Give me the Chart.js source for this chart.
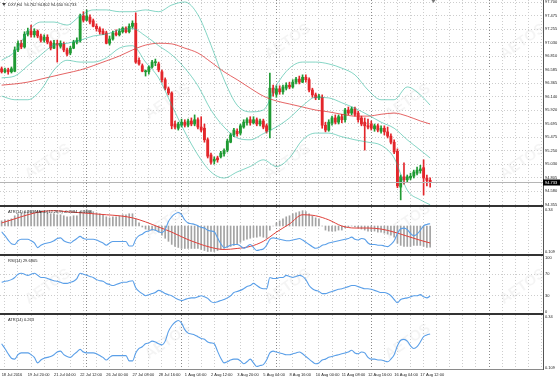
<!DOCTYPE html>
<html>
<head>
<meta charset="utf-8">
<script src="https://cdn.jsdelivr.net/npm/chart.js@4.4.1/dist/chart.umd.min.js"></script>
<style>
  html, body { margin: 0; padding: 0; background: #fff; }
  #wrap { position: relative; width: 560px; height: 382px; overflow: hidden; }
  #wrap canvas { position: absolute; left: 0; }
</style>
</head>
<body>
<div id="wrap">
  <canvas id="marca" width="560" height="382" style="top:0"></canvas>
  <canvas id="main" width="560" height="210" style="top:0"></canvas>
  <canvas id="macd" width="560" height="56" style="top:203px"></canvas>
  <canvas id="rsi" width="560" height="66" style="top:252px"></canvas>
  <canvas id="atr" width="560" height="71" style="top:311px"></canvas>
</div>
<script>
// === Datos (DXY H4) ===
const nBars = 132;
const nSlots = 166;

const xLabels = ['18 Jul 2016', '19 Jul 20:00', '21 Jul 04:00', '22 Jul 12:00', '26 Jul 00:00', '27 Jul 08:00',
  '28 Jul 16:00', '1 Aug 04:00', '2 Aug 12:00', '3 Aug 20:00', '5 Aug 04:00', '8 Aug 16:00', '10 Aug 00:00',
  '11 Aug 08:00', '12 Aug 16:00', '16 Aug 04:00', '17 Aug 12:00'];

const opens = [96.60,96.55,96.58,96.55,96.56,96.91,97.02,96.96,97.17,97.22,
  97.16,97.22,97.14,97.07,97.12,97.04,96.94,97.02,96.97,97.01,
  96.91,96.86,96.94,97.04,97.06,97.47,97.40,97.45,97.39,97.30,
  97.26,97.22,97.19,97.02,97.09,97.19,97.16,97.21,97.27,97.21,
  97.30,97.35,96.74,96.65,96.55,96.55,96.63,96.70,96.68,96.55,
  96.42,96.27,96.20,95.69,95.62,95.67,95.72,95.67,95.74,95.69,
  95.76,95.64,95.62,95.43,95.18,95.08,95.13,95.15,95.20,95.26,
  95.39,95.51,95.57,95.54,95.64,95.71,95.76,95.71,95.76,95.69,
  95.74,95.66,95.59,96.28,96.18,96.27,96.22,96.28,96.33,96.30,
  96.38,96.43,96.38,96.46,96.42,96.25,96.17,96.12,96.13,95.67,
  95.59,95.71,95.79,95.72,95.81,95.76,95.92,95.87,95.94,95.87,
  95.79,95.72,95.66,95.69,95.61,95.66,95.57,95.62,95.56,95.49,
  95.39,95.24,94.65,94.82,94.77,94.80,94.83,94.88,94.92,94.97,
  94.80,94.762];
const highs = [96.63,96.61,96.61,96.63,96.96,97.06,97.07,97.21,97.27,97.32,
  97.26,97.24,97.17,97.16,97.16,97.06,97.07,97.07,97.06,97.04,
  96.94,96.97,97.07,97.11,97.50,97.54,97.57,97.49,97.42,97.34,
  97.29,97.26,97.22,97.14,97.22,97.24,97.26,97.29,97.29,97.34,
  97.39,97.52,96.78,96.68,96.58,96.65,96.74,96.76,96.71,96.58,
  96.45,96.30,96.22,95.74,95.72,95.77,95.76,95.77,95.79,95.84,
  95.79,95.81,95.69,95.46,95.21,95.15,95.16,95.24,95.28,95.44,
  95.54,95.62,95.61,95.69,95.76,95.79,95.81,95.81,95.79,95.77,
  95.77,95.69,96.53,96.33,96.32,96.32,96.33,96.37,96.38,96.42,
  96.46,96.48,96.50,96.50,96.45,96.28,96.20,96.18,96.17,95.72,
  95.76,95.82,95.84,95.84,95.85,95.95,95.97,95.97,95.97,95.90,
  95.82,95.79,95.77,95.74,95.69,95.69,95.66,95.66,95.64,95.53,
  95.43,95.28,94.85,95.05,94.85,94.88,94.93,94.98,95.01,95.10,
  94.85,94.802];
const lows = [96.53,96.53,96.51,96.53,96.55,96.88,96.93,96.94,97.14,97.12,
  97.12,97.11,97.04,97.04,97.01,96.91,96.93,96.71,96.94,96.88,
  96.81,96.83,96.93,97.01,97.04,97.37,97.39,97.34,97.29,97.22,
  97.17,97.16,97.01,96.99,97.07,97.14,97.14,97.19,97.19,97.19,
  97.27,96.69,96.66,96.55,96.48,96.51,96.61,96.65,96.55,96.38,
  96.25,96.17,95.61,95.61,95.59,95.64,95.64,95.64,95.66,95.66,
  95.61,95.56,95.39,95.13,95.03,95.03,95.06,95.13,95.16,95.23,
  95.38,95.48,95.49,95.51,95.62,95.67,95.67,95.69,95.66,95.66,
  95.61,95.54,95.46,96.15,96.13,96.18,96.18,96.25,96.27,96.28,
  96.35,96.35,96.37,96.38,96.22,96.13,96.09,96.09,95.62,95.56,
  95.57,95.67,95.69,95.69,95.71,95.72,95.84,95.84,95.82,95.72,
  95.66,95.26,95.61,95.59,95.57,95.56,95.54,95.51,95.46,95.36,
  95.20,94.64,94.44,94.70,94.73,94.77,94.80,94.85,94.88,94.52,
  94.67,94.650];
const closes = [96.55,96.58,96.55,96.60,96.91,97.02,96.96,97.17,97.22,97.16,
  97.22,97.14,97.07,97.12,97.04,96.94,97.02,96.99,97.02,96.91,
  96.84,96.94,97.04,97.07,97.47,97.40,97.47,97.37,97.30,97.26,
  97.21,97.17,97.02,97.09,97.19,97.16,97.22,97.27,97.21,97.30,
  97.35,96.71,96.68,96.56,96.56,96.63,96.71,96.71,96.58,96.42,
  96.28,96.20,95.66,95.64,95.69,95.72,95.67,95.74,95.69,95.76,
  95.64,95.59,95.43,95.16,95.06,95.11,95.10,95.21,95.25,95.41,
  95.51,95.59,95.53,95.66,95.72,95.76,95.71,95.76,95.69,95.74,
  95.64,95.57,96.28,96.20,96.27,96.22,96.30,96.33,96.30,96.38,
  96.43,96.38,96.46,96.42,96.25,96.17,96.12,96.15,95.67,95.59,
  95.72,95.79,95.72,95.81,95.76,95.92,95.87,95.94,95.85,95.76,
  95.69,95.66,95.64,95.62,95.66,95.59,95.62,95.56,95.49,95.39,
  95.23,94.67,94.82,94.77,94.82,94.83,94.90,94.93,94.95,94.80,
  94.76,94.733];

const priceTicks = [97.700, 97.475, 97.255, 97.030, 96.810, 96.585, 96.365, 96.140,
  95.920, 95.695, 95.475, 95.250, 95.030, 94.805, 94.580, 94.355];

// líneas suaves: un valor cada 4 velas
const lineIdx = [0,4,8,12,16,20,24,28,32,36,40,44,48,52,56,60,64,68,72,76,80,84,88,92,96,100,104,108,112,116,120,124,128,131];
const bbUpper = [96.74,96.88,97.21,97.37,97.37,97.32,97.47,97.57,97.57,97.54,97.54,97.57,97.54,97.65,97.70,97.49,96.99,
  96.42,96.00,95.89,95.92,96.33,96.61,96.71,96.71,96.68,96.61,96.50,96.25,96.09,96.09,96.30,96.17,96.00];
const bbMiddle = [96.45,96.48,96.65,96.83,96.99,97.02,97.07,97.14,97.17,97.24,97.26,97.14,96.98,96.83,96.61,96.32,95.92,
  95.64,95.46,95.43,95.53,95.64,95.79,95.99,96.13,96.12,96.04,95.95,95.84,95.72,95.62,95.43,95.26,95.13];
const bbLower = [96.15,96.09,96.09,96.25,96.58,96.74,96.71,96.71,96.78,96.94,96.98,96.71,96.45,96.00,95.56,95.18,94.90,
  94.80,94.90,94.99,95.10,94.99,95.13,95.43,95.54,95.54,95.48,95.43,95.39,95.34,95.13,94.60,94.44,94.36];
const maLine = [96.33,96.35,96.38,96.43,96.48,96.53,96.58,96.65,96.73,96.81,96.91,96.99,97.02,97.01,96.94,96.86,96.71,
  96.55,96.42,96.28,96.15,96.07,96.02,95.97,95.92,95.89,95.85,95.82,95.82,95.85,95.87,95.82,95.74,95.69];

const macdMain = [0.05,0.06,0.06,0.07,0.10,0.12,0.13,0.14,0.15,0.15,
  0.15,0.15,0.14,0.14,0.13,0.12,0.12,0.11,0.11,0.10,
  0.09,0.09,0.10,0.10,0.14,0.15,0.16,0.15,0.14,0.13,
  0.12,0.11,0.09,0.08,0.09,0.09,0.10,0.11,0.11,0.12,
  0.12,0.07,0.03,-0.01,-0.03,-0.04,-0.04,-0.04,-0.06,-0.09,
  -0.12,-0.15,-0.18,-0.20,-0.21,-0.22,-0.22,-0.22,-0.22,-0.22,
  -0.22,-0.23,-0.24,-0.25,-0.25,-0.25,-0.24,-0.23,-0.22,-0.21,
  -0.20,-0.19,-0.18,-0.16,-0.14,-0.13,-0.12,-0.11,-0.11,-0.10,
  -0.11,-0.12,-0.04,0.00,0.03,0.05,0.07,0.09,0.10,0.12,
  0.13,0.14,0.15,0.14,0.12,0.10,0.08,0.07,0.00,-0.04,
  -0.05,-0.05,-0.05,-0.04,-0.04,-0.02,-0.01,0.00,-0.01,-0.02,
  -0.03,-0.04,-0.05,-0.05,-0.05,-0.06,-0.06,-0.07,-0.08,-0.09,
  -0.11,-0.17,-0.19,-0.20,-0.20,-0.20,-0.19,-0.19,-0.19,-0.20,
  -0.21,-0.2084];
const macdSignal = [0.03,0.07,0.11,0.14,0.15,0.14,0.13,0.12,0.11,0.10,0.08,0.04,-0.01,-0.06,-0.12,-0.17,-0.21,
  -0.23,-0.22,-0.20,-0.15,-0.06,0.02,0.11,0.10,0.06,0.00,-0.02,-0.02,-0.03,-0.06,-0.10,-0.14,-0.1666];

const rsiValues = [55,57,58,60,64,70,72,70,68,70,
  72,68,64,64,62,60,58,57,55,53,
  53,55,57,62,72,70,68,66,64,60,
  58,57,53,51,49,51,53,55,55,57,
  58,45,38,34,30,32,34,36,40,38,
  34,32,30,26,23,21,23,25,26,26,
  28,30,28,25,19,17,19,21,23,26,
  30,36,38,40,43,47,49,53,49,45,
  43,43,64,62,62,64,64,68,66,64,
  66,68,66,60,49,43,40,38,34,34,
  36,38,40,42,43,45,47,49,49,47,
  45,43,43,42,40,38,36,36,34,30,
  23,17,23,25,26,28,30,30,32,28,
  26,29.6805];
const rsiTicks = [0, 30, 70, 100];

const atrValues = [0.219,0.198,0.174,0.154,0.150,0.170,0.178,0.178,0.178,0.170,
  0.158,0.133,0.146,0.154,0.158,0.162,0.170,0.182,0.186,0.170,
  0.162,0.158,0.170,0.182,0.194,0.182,0.178,0.178,0.178,0.174,
  0.166,0.158,0.146,0.158,0.166,0.166,0.166,0.166,0.166,0.142,
  0.142,0.178,0.198,0.206,0.219,0.223,0.231,0.227,0.219,0.214,
  0.231,0.275,0.300,0.316,0.324,0.312,0.283,0.267,0.263,0.259,
  0.251,0.243,0.239,0.227,0.223,0.219,0.186,0.154,0.133,0.138,
  0.146,0.150,0.150,0.142,0.129,0.138,0.150,0.133,0.117,0.121,
  0.125,0.146,0.178,0.186,0.182,0.178,0.174,0.170,0.170,0.174,
  0.178,0.182,0.174,0.162,0.150,0.138,0.129,0.133,0.146,0.150,
  0.158,0.162,0.166,0.170,0.174,0.178,0.182,0.190,0.178,0.174,
  0.182,0.178,0.158,0.150,0.150,0.146,0.146,0.142,0.138,0.150,
  0.170,0.210,0.235,0.239,0.231,0.210,0.198,0.206,0.227,0.251,
  0.259,0.263];
const atrTicks = [0.109, 0.34];

const weekLines = [26, 55, 84, 113, 149];

// === Estilos ===
const FONT = 'Liberation Sans';
Chart.defaults.font.family = FONT;
Chart.defaults.font.size = 4;
Chart.defaults.color = '#333';

const colUp = '#1f9a33';
const colDown = '#e3262b';
const colBand = 'rgba(32,178,150,0.55)';
const colMA = 'rgba(220,50,50,0.75)';
const colBlue = '#5a9fe8';
const colGrid = '#cdcdcd';

const last = nBars - 1;
const slots = Array.from({ length: nSlots }, (_, i) => i);
const candleColor = closes.map((c, i) => (c >= opens[i] ? colUp : colDown));

function sparse(values) {
  const out = new Array(nBars).fill(null);
  lineIdx.forEach((b, k) => { out[b] = values[k]; });
  return out;
}

function lineSet(data, color, axis, width) {
  return {
    type: 'line', data: data, yAxisID: axis, borderColor: color, borderWidth: width || 1,
    pointRadius: 0, spanGaps: true, cubicInterpolationMode: 'monotone', fill: false
  };
}

function xAxis(withLabels) {
  return {
    type: 'category',
    offset: true,
    afterFit: s => { s.paddingLeft = 0; s.paddingRight = 0; },
    grid: {
      offset: false,
      drawTicks: false,
      color: ctx => weekLines.includes(ctx.index) ? '#8a8a8a' : (ctx.index % 4 === 1 ? colGrid : 'transparent')
    },
    border: { display: true, color: withLabels ? '#8a8a8a' : '#333', width: withLabels ? 1 : 2, dash: [1, 2] },
    ticks: {
      display: withLabels, autoSkip: false, maxRotation: 0, minRotation: 0, align: 'start', padding: 3,
      color: '#222',
      callback: (v, i) => (i % 8 === 0 && xLabels[i / 8]) ? xLabels[i / 8] : ''
    }
  };
}

function yAxis(min, max, tickValues, fmt, gridColor) {
  return {
    position: 'right',
    min: min, max: max,
    afterFit: s => { s.width = 17; s.paddingTop = 0; s.paddingBottom = 0; },
    afterBuildTicks: s => { s.ticks = tickValues.map(v => ({ value: v })); },
    grid: { drawTicks: false, color: gridColor || 'transparent' },
    border: { display: true, color: '#555', width: 1, dash: [1, 2] },
    ticks: { padding: 2, autoSkip: false, color: '#222', callback: fmt }
  };
}

function baseOptions(padding, scales, plugin) {
  return {
    responsive: false, animation: false, devicePixelRatio: 1, events: [],
    layout: { padding: padding },
    plugins: { legend: { display: false }, tooltip: { enabled: false } },
    scales: scales
  };
}

function titlePlugin(text, extra) {
  return {
    id: 'titulo',
    afterDraw(chart) {
      const { ctx, chartArea: a } = chart;
      ctx.save();
      ctx.font = '4px "' + FONT + '"';
      ctx.fillStyle = '#222';
      ctx.textBaseline = 'top';
      ctx.fillText(text, a.left + 8, a.top + 2.5);
      ctx.restore();
      if (extra) extra(chart);
    }
  };
}

// === Marca de agua ===
const marca = document.getElementById('marca').getContext('2d');
[[50, 45], [170, 105], [290, 45], [410, 105], [525, 45], [50, 165], [170, 225], [290, 165], [410, 225],
 [525, 165], [50, 290], [170, 345], [290, 290], [410, 345], [525, 290]].forEach(p => {
  marca.save();
  marca.translate(p[0], p[1]);
  marca.rotate(-0.6);
  marca.font = 'bold 15px "' + FONT + '"';
  marca.fillStyle = 'rgba(0,0,0,0.045)';
  marca.textAlign = 'center';
  marca.fillText('AETOS', 0, 0);
  marca.restore();
});

// === Panel principal: velas + Bollinger + media ===
const mainTitle = 'DXY,H4  ' + opens[last].toFixed(3) + ' ' + highs[last].toFixed(3) + ' ' +
  lows[last].toFixed(3) + ' ' + closes[last].toFixed(3);

new Chart(document.getElementById('main'), {
  type: 'bar',
  data: {
    labels: slots,
    datasets: [
      lineSet(sparse(bbUpper), colBand, 'y'),
      lineSet(sparse(bbMiddle), colBand, 'y'),
      lineSet(sparse(bbLower), colBand, 'y'),
      lineSet(sparse(maLine), colMA, 'y'),
      { data: opens.map((o, i) => [o, closes[i]]), backgroundColor: candleColor, barThickness: 2.2,
        grouped: false, minBarLength: 1, yAxisID: 'y' },
      { data: lows.map((l, i) => [l, highs[i]]), backgroundColor: candleColor, barThickness: 1,
        grouped: false, yAxisID: 'y' }
    ]
  },
  options: baseOptions({ top: 0, bottom: 4, left: 0, right: 0 }, {
    x: xAxis(false),
    y: yAxis(94.339, 97.733, priceTicks, v => v.toFixed(3), colGrid)
  }),
  plugins: [titlePlugin(mainTitle, chart => {
    const { ctx, chartArea: a, scales } = chart;
    const yp = Math.round(scales.y.getPixelForValue(closes[last])) + 0.5;
    ctx.save();
    ctx.strokeStyle = '#b5b5b5';
    ctx.lineWidth = 1;
    ctx.beginPath(); ctx.moveTo(a.left, yp); ctx.lineTo(a.right, yp); ctx.stroke();
    ctx.fillStyle = '#000';
    ctx.fillRect(a.right, yp - 3, 17, 6);
    ctx.fillStyle = '#fff';
    ctx.font = '4px "' + FONT + '"';
    ctx.textBaseline = 'middle';
    ctx.fillText(closes[last].toFixed(3), a.right + 2, yp);
    // icono del título y marca de desplazamiento
    ctx.fillStyle = '#444';
    ctx.beginPath(); ctx.moveTo(a.left + 2, a.top + 3); ctx.lineTo(a.left + 6, a.top + 3);
    ctx.lineTo(a.left + 4, a.top + 6); ctx.closePath(); ctx.fill();
    const xs = scales.x.getPixelForValue(nBars);
    ctx.fillStyle = '#777';
    ctx.beginPath(); ctx.moveTo(xs - 2, a.top); ctx.lineTo(xs + 2, a.top);
    ctx.lineTo(xs, a.top + 3); ctx.closePath(); ctx.fill();
    ctx.restore();
  })]
});

// === Panel MACD + ATR ===
new Chart(document.getElementById('macd'), {
  type: 'bar',
  data: {
    labels: slots,
    datasets: [
      lineSet(atrValues, colBlue, 'atrTop', 1.1),
      lineSet(sparse(macdSignal), '#e0403a', 'macdY', 1),
      { data: macdMain, backgroundColor: '#a3a3a3', barThickness: 1, grouped: false, yAxisID: 'macdY' }
    ]
  },
  options: baseOptions({ top: 4, bottom: 4, left: 0, right: 0 }, {
    x: xAxis(false),
    atrTop: yAxis(0.0927, 0.3536, atrTicks, v => String(v)),
    macdY: { display: false, min: -0.284, max: 0.186 }
  }),
  plugins: [titlePlugin('ATR(14) ' + atrValues[last].toFixed(3) + ' MACD(12,26,9) ' +
    macdMain[last].toFixed(4) + ' ' + macdSignal[macdSignal.length - 1].toFixed(4))]
});

// === Panel RSI ===
new Chart(document.getElementById('rsi'), {
  type: 'line',
  data: {
    labels: slots,
    datasets: [lineSet(rsiValues, colBlue, 'y', 1.1)]
  },
  options: baseOptions({ top: 4, bottom: 4, left: 0, right: 0 }, {
    x: xAxis(false),
    y: yAxis(-4, 104, rsiTicks, v => String(v),
      ctx => (ctx.tick && (ctx.tick.value === 30 || ctx.tick.value === 70)) ? colGrid : 'transparent')
  }),
  plugins: [titlePlugin('RSI(14) ' + rsiValues[last].toFixed(4))]
});

// === Panel ATR ===
new Chart(document.getElementById('atr'), {
  type: 'line',
  data: {
    labels: slots,
    datasets: [lineSet(atrValues, colBlue, 'y', 1.1)]
  },
  options: baseOptions({ top: 4, bottom: 2, left: 0, right: 0 }, {
    x: xAxis(true),
    y: yAxis(0.1047, 0.3486, atrTicks, v => String(v))
  }),
  plugins: [titlePlugin('ATR(14) ' + atrValues[last].toFixed(3))]
});
</script>
</body>
</html>
